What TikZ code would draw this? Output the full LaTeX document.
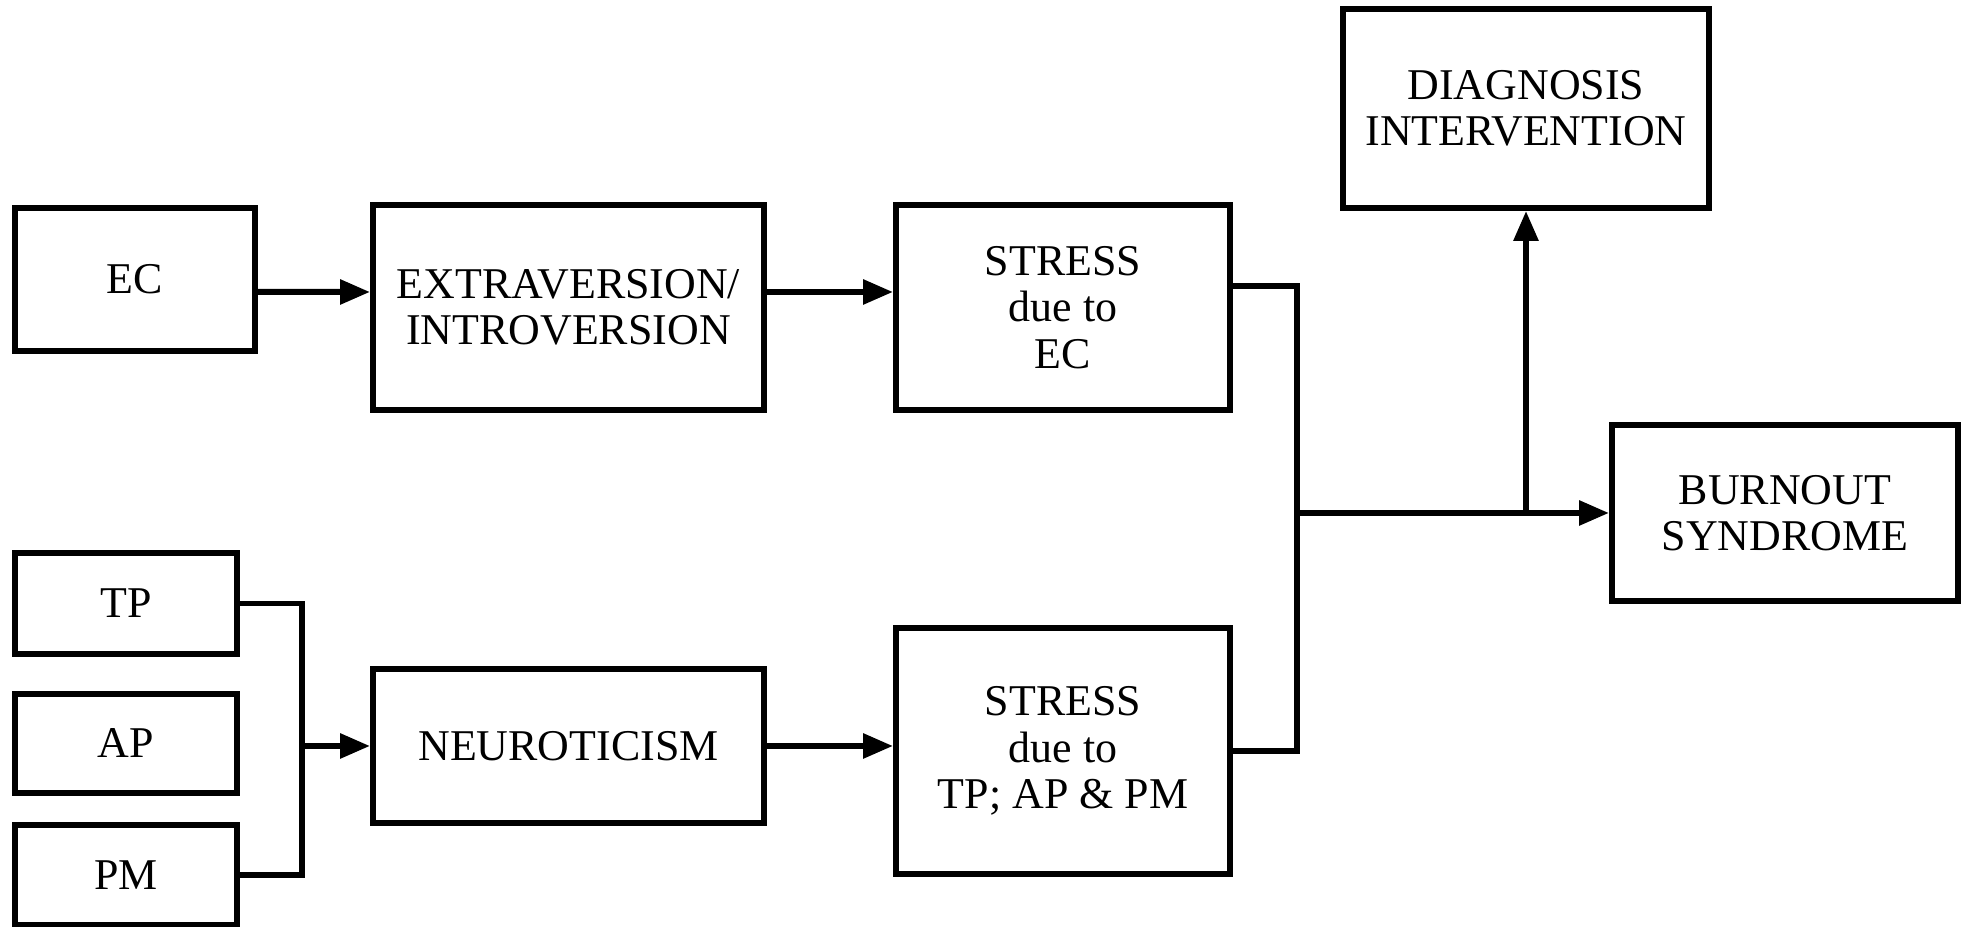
\documentclass[tikz,border=0pt]{standalone}
\usepackage{fontspec}
\setmainfont{Liberation Serif}
\usetikzlibrary{arrows.meta, positioning, calc}

\begin{document}
\begin{tikzpicture}[
    font=\fontsize{12.5}{13.2}\selectfont,
    box/.style={draw, line width=1.7pt, align=center, inner sep=0pt},
    arrow/.style={-{Triangle[length=0.3cm, width=0.24cm]}, line width=1.7pt},
    link/.style={line width=1.7pt}
]
    \useasboundingbox (0,0) rectangle (19.68,9.27);
    % upper row
    \node[box, minimum width=2.40cm, minimum height=1.43cm] (ec) at (1.35,6.475) {EC};
    \node[box, minimum width=3.91cm, minimum height=2.05cm] (extra) at (5.685,6.195) {EXTRAVERSION/\\INTROVERSION};
    \node[box, minimum width=3.34cm, minimum height=2.05cm] (stressec) at (10.63,6.195) {STRESS\\due to\\EC};
    % lower row
    \node[box, minimum width=2.22cm, minimum height=1.01cm] (tp) at (1.26,3.235) {TP};
    \node[box, minimum width=2.22cm, minimum height=0.99cm] (ap) at (1.26,1.835) {AP};
    \node[box, minimum width=2.22cm, minimum height=1.00cm] (pm) at (1.26,0.52) {PM};
    \node[box, minimum width=3.91cm, minimum height=1.54cm] (neuro) at (5.685,1.81) {NEUROTICISM};
    \node[box, minimum width=3.34cm, minimum height=2.46cm] (stresstp) at (10.63,1.76) {STRESS\\due to\\TP; AP \& PM};
    % outcome
    \node[box, minimum width=3.66cm, minimum height=1.99cm] (diag) at (15.26,8.185) {DIAGNOSIS\\INTERVENTION};
    \node[box, minimum width=3.46cm, minimum height=1.76cm] (burnout) at (17.85,4.14) {BURNOUT\\SYNDROME};

    \coordinate (join) at (12.97,4.14);
    \coordinate (bus) at (3.02,1.81);

    \draw[arrow] ([yshift=-1.25mm]ec.east) -- ([yshift=1.55mm]extra.west);
    \draw[arrow] ([yshift=1.55mm]extra.east) -- ([yshift=1.55mm]stressec.west);
    \draw[link] ([yshift=2.15mm]stressec.east) -| (join);
    \draw[link] (stresstp.east) -| (join);
    \draw[arrow] (join) -- (burnout.west);
    \draw[arrow] (join -| diag.south) -- (diag.south);
    \draw[link] (tp.east) -| (bus) |- (pm.east);
    \draw[arrow] (bus) -- (neuro.west);
    \draw[arrow] (neuro.east) -- (neuro.east -| stresstp.west);
\end{tikzpicture}
\end{document}
